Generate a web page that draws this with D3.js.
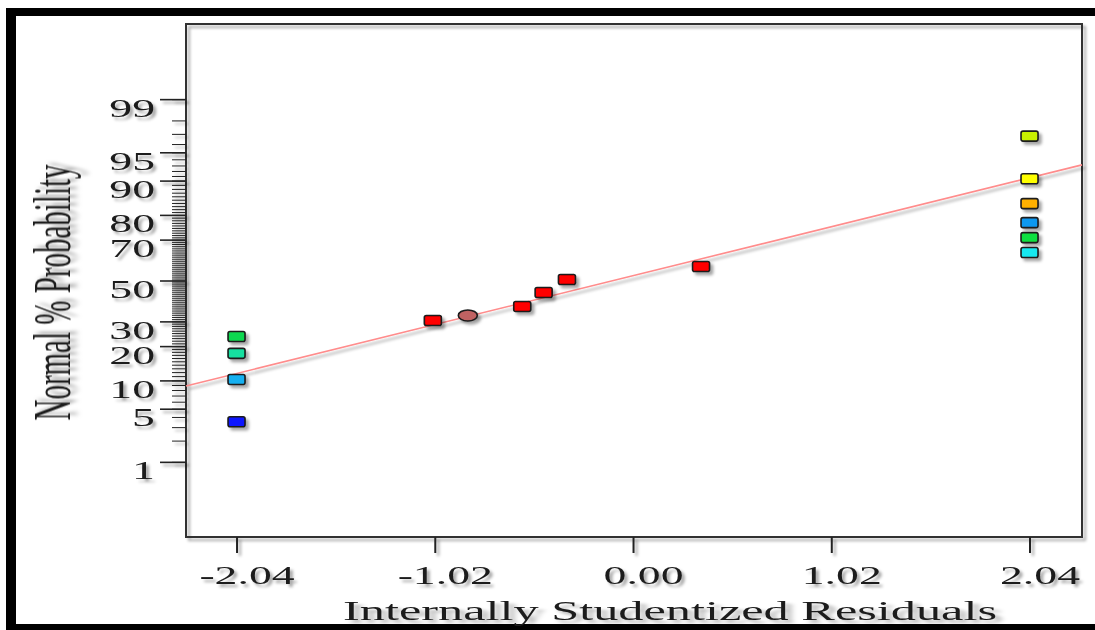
<!DOCTYPE html>
<html><head><meta charset="utf-8">
<script src="https://cdn.jsdelivr.net/npm/d3@7"></script>
<style>body{margin:0;background:#fff}svg{display:block}</style>
</head><body>
<svg id="c" width="1095" height="630"></svg>
<script>
// ---- data ----
const residuals     = [-2.04, -2.04, -2.04, -2.04, -1.03, -0.85, -0.57, -0.46, -0.34, 0.35, 2.04, 2.04, 2.04, 2.04, 2.04, 2.04];
const probabilities = [3.5, 10.2, 17.5, 23.6, 30.4, 32.7, 36.9, 43.9, 50.5, 57.1, 64.0, 70.9, 77.1, 83.8, 90.4, 96.8];
const pointColors   = ["#0a14ff", "#12b0f0", "#12e0a0", "#10d850", "#ff0000", "#c06262", "#ff0000", "#ff0000", "#ff0000", "#ff0000",
                       "#12e8f0", "#10e040", "#1098f0", "#ffb000", "#ffff00", "#c8f000"];
const pointShapes   = ["square","square","square","square","square","circle","square","square","square","square",
                       "square","square","square","square","square","square"];
const lineResiduals     = [-2.30, 2.31];
const lineProbabilities = [8.8, 93.1];
const xTicks = [-2.04, -1.02, 0, 1.02, 2.04];
const yTicks = [1, 5, 10, 20, 30, 50, 70, 80, 90, 95, 99];
const yMinorTicks = d3.range(1, 100);
const xDomain = [-2.30, 2.31];
const yDomainPct = [0.05, 99.95];
const xTitle = "Internally Studentized Residuals";
const yTitle = "Normal % Probability";

// inverse normal CDF (Acklam)
function probit(p) {
  const a=[-3.969683028665376e+01,2.209460984245205e+02,-2.759285104469687e+02,1.383577518672690e+02,-3.066479806614716e+01,2.506628277459239e+00];
  const b=[-5.447609879822406e+01,1.615858368580409e+02,-1.556989798598866e+02,6.680131188771972e+01,-1.328068155288572e+01];
  const c=[-7.784894002430293e-03,-3.223964580411365e-01,-2.400758277161838e+00,-2.549732539343734e+00,4.374664141464968e+00,2.938163982698783e+00];
  const d=[7.784695709041462e-03,3.224671290700398e-01,2.445134137142996e+00,3.754408661907416e+00];
  const pl=0.02425;
  let q,r;
  if (p<pl){ q=Math.sqrt(-2*Math.log(p)); return (((((c[0]*q+c[1])*q+c[2])*q+c[3])*q+c[4])*q+c[5])/((((d[0]*q+d[1])*q+d[2])*q+d[3])*q+1); }
  if (p<=1-pl){ q=p-0.5; r=q*q; return (((((a[0]*r+a[1])*r+a[2])*r+a[3])*r+a[4])*r+a[5])*q/(((((b[0]*r+b[1])*r+b[2])*r+b[3])*r+b[4])*r+1); }
  q=Math.sqrt(-2*Math.log(1-p)); return -(((((c[0]*q+c[1])*q+c[2])*q+c[3])*q+c[4])*q+c[5])/((((d[0]*q+d[1])*q+d[2])*q+d[3])*q+1);
}

const svg = d3.select("#c");
const FONT = "'Liberation Serif','Times New Roman',serif";
const TXT = "#1c1c1c";
const SX = 1.83;

const defs = svg.append("defs");
defs.append("filter").attr("id","sh").attr("x","-10%").attr("y","-10%").attr("width","130%").attr("height","130%")
  .append("feDropShadow").attr("dx",3).attr("dy",3).attr("stdDeviation",1.8).attr("flood-color","#000").attr("flood-opacity",0.35);
defs.append("filter").attr("id","blur").append("feGaussianBlur").attr("stdDeviation",1.5);

// outer frame
svg.append("rect").attr("x",0).attr("y",0).attr("width",1095).attr("height",630).attr("fill","#fff");
svg.append("line").attr("x1",16).attr("x2",1095).attr("y1",18.5).attr("y2",18.5).attr("stroke","#bdbdbd").attr("stroke-width",4).attr("filter","url(#blur)");
svg.append("line").attr("x1",18).attr("x2",18).attr("y1",16).attr("y2",624).attr("stroke","#c8c8c8").attr("stroke-width",4).attr("filter","url(#blur)");
svg.append("rect").attr("x",6).attr("y",8).attr("width",1089).attr("height",8).attr("fill","#000");
svg.append("rect").attr("x",6).attr("y",8).attr("width",10).attr("height",622).attr("fill","#000");
svg.append("rect").attr("x",6).attr("y",624).attr("width",1089).attr("height",6).attr("fill","#000");

// scales
const x = d3.scaleLinear().domain(xDomain).range([186, 1082]);
const yz = d3.scaleLinear().domain(yDomainPct.map(p => probit(p/100))).range([537, 24]);
const y = p => yz(probit(p/100));

// plot border
svg.append("rect").attr("x",186).attr("y",24).attr("width",896).attr("height",513)
  .attr("fill","none").attr("stroke","#333").attr("stroke-width",2).attr("filter","url(#sh)");

// x axis
const gx = svg.append("g").attr("transform","translate(0,537)").attr("filter","url(#sh)")
  .call(d3.axisBottom(x).tickValues(xTicks).tickFormat(d => d.toFixed(2)).tickSize(16));
gx.select(".domain").remove();
gx.selectAll("line").attr("stroke","#222").attr("stroke-width",2);
gx.selectAll("text").attr("y",0).attr("dy",0).attr("transform",`translate(10,47) scale(${SX},1)`)
  .attr("font-family",FONT).attr("font-size",25).attr("fill",TXT);

// y axis minor
const gyMinor = svg.append("g").attr("transform","translate(186,0)").attr("filter","url(#sh)")
  .call(d3.axisLeft(yz).tickValues(yMinorTicks.map(p => probit(p/100))).tickSize(14).tickFormat(""));
gyMinor.select(".domain").remove();
gyMinor.selectAll("line").attr("stroke","#222").attr("stroke-width",1);

// y axis major
const gy = svg.append("g").attr("transform","translate(186,0)").attr("filter","url(#sh)")
  .call(d3.axisLeft(yz).tickValues(yTicks.map(p => probit(p/100))).tickFormat((d,i) => yTicks[i]).tickSize(26));
gy.select(".domain").remove();
gy.selectAll("line").attr("stroke","#222").attr("stroke-width",1.6);
gy.selectAll("text").attr("x",0).attr("dy",0).attr("transform",`translate(-31,17) scale(${SX},1)`)
  .attr("font-family",FONT).attr("font-size",25).attr("fill",TXT);

// fit line
svg.append("path").datum(lineResiduals.map((r,i) => [r, lineProbabilities[i]]))
  .attr("d", d3.line().x(d => x(d[0])).y(d => y(d[1])))
  .attr("fill","none").attr("stroke","#ff8c8c").attr("stroke-width",1.6).attr("filter","url(#sh)");

// points
const pts = residuals.map((r,i) => ({r, p: probabilities[i], c: pointColors[i], s: pointShapes[i]}));
const gp = svg.append("g").attr("filter","url(#sh)");
gp.selectAll("rect").data(pts.filter(d => d.s === "square")).join("rect")
  .attr("x", d => x(d.r) - 8.5).attr("y", d => y(d.p) - 5).attr("width",17).attr("height",10).attr("rx",2)
  .attr("fill", d => d.c).attr("stroke","#1a1a1a").attr("stroke-width",1.6);
gp.selectAll("ellipse").data(pts.filter(d => d.s === "circle")).join("ellipse")
  .attr("cx", d => x(d.r)).attr("cy", d => y(d.p)).attr("rx",9.5).attr("ry",5.5)
  .attr("fill", d => d.c).attr("stroke","#1a1a1a").attr("stroke-width",1.6);

// titles
svg.append("text").attr("transform",`translate(670,620) scale(${SX},1)`).attr("text-anchor","middle")
  .attr("font-family",FONT).attr("font-size",27.5).attr("fill",TXT).attr("filter","url(#sh)").text(xTitle);
svg.append("text").attr("transform",`translate(70,292.5) scale(${SX},1) rotate(-90)`).attr("text-anchor","middle")
  .attr("font-family",FONT).attr("font-size",29).attr("fill",TXT).attr("filter","url(#sh)").text(yTitle);
</script>
</body></html>
